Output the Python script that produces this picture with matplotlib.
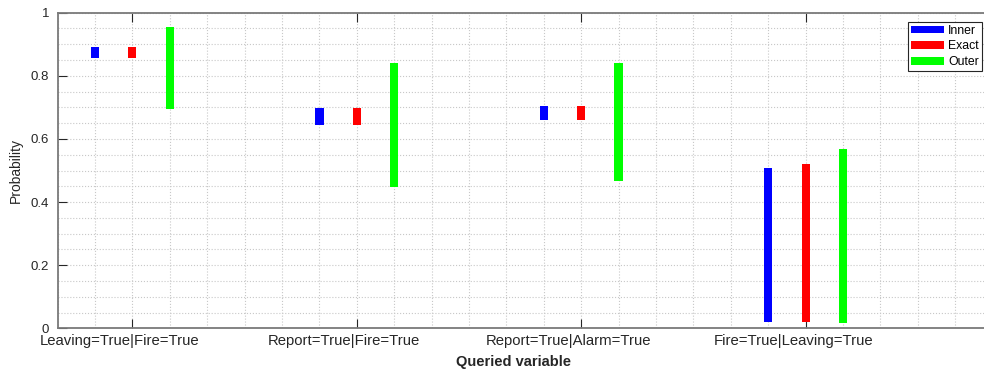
import matplotlib
matplotlib.use("Agg")
import matplotlib.pyplot as plt
import matplotlib.transforms as mtransforms
import numpy as np
from matplotlib.ticker import MultipleLocator

categories = ['Leaving=True|Fire=True', 'Report=True|Fire=True',
              'Report=True|Alarm=True', 'Fire=True|Leaving=True']
inner_lo = [0.857, 0.643, 0.661, 0.019]
inner_hi = [0.890, 0.699, 0.703, 0.507]
exact_lo = [0.857, 0.643, 0.661, 0.019]
exact_hi = [0.890, 0.699, 0.703, 0.521]
outer_lo = [0.695, 0.447, 0.467, 0.016]
outer_hi = [0.956, 0.840, 0.841, 0.569]
series = ['Inner', 'Exact', 'Outer']
yticks = [0, 0.2, 0.4, 0.6, 0.8, 1]
ytick_labels = ['0', '0.2', '0.4', '0.6', '0.8', '1']

plt.rcParams['font.family'] = ['Liberation Sans', 'DejaVu Sans']

W, H = 984, 373
fig = plt.figure(figsize=(W / 100, H / 100), dpi=100)
left_px, bottom_px, top_px = 57.5, 328.3, 12.7
unit_px = 224.45
xmin, xmax = 2 / 3, 5.0
width_px = (xmax - xmin) * unit_px
ax = fig.add_axes([left_px / W, (H - bottom_px) / H, width_px / W,
                   (bottom_px - top_px) / H])

x = np.arange(1, len(categories) + 1)
bw = 0.037
off = 1 / 6
colors = ['#0000ff', '#ff0000', '#00ff00']
los = [inner_lo, exact_lo, outer_lo]
his = [inner_hi, exact_hi, outer_hi]
for i, (lo, hi, c, name) in enumerate(zip(los, his, colors, series)):
    lo = np.array(lo)
    hi = np.array(hi)
    ax.bar(x + (i - 1) * off, hi - lo, bottom=lo, width=bw, color=c,
           label=name, zorder=3)

ax.set_xlim(xmin, xmax)
ax.set_ylim(0, 1)
ax.set_xticks(x)
ax.set_xticklabels(categories, fontsize=10.7, color='#262626')
ax.set_yticks(yticks)
ax.set_yticklabels(ytick_labels, fontsize=9.5, color='#262626')
ax.xaxis.set_minor_locator(MultipleLocator(1 / 6))
ax.yaxis.set_minor_locator(MultipleLocator(0.05))
ax.tick_params(which='major', direction='in', length=6.5, width=0.8,
               top=True, right=True, color='#262626')
ax.tick_params(axis='x', which='major', pad=4)
ax.tick_params(axis='y', which='major', pad=6)
ax.tick_params(which='minor', length=0, top=True, right=True)
ax.grid(which='both', linestyle=':', color='#c8c8c8', linewidth=0.8, zorder=0)
ax.set_axisbelow(True)
for s in ax.spines.values():
    s.set_color('#7a7a7a')
    s.set_linewidth(1.3)

shift = mtransforms.ScaledTranslation(-12.5 / 100, 0, fig.dpi_scale_trans)
for lab in ax.get_xticklabels():
    lab.set_transform(lab.get_transform() + shift)

ax.set_ylabel('Probability', fontsize=10, color='#262626')
ax.yaxis.set_label_coords((22.5 - left_px) / width_px, 0.5)
ax.set_xlabel('Queried variable', fontsize=10.5, fontweight='bold',
              color='#262626')
ax.xaxis.set_label_coords((514 - left_px) / width_px,
                          -(355 - bottom_px) / (bottom_px - top_px))

leg = ax.legend(loc='upper right', bbox_to_anchor=(981.7 / W, (H - 21.7) / H),
                bbox_transform=fig.transFigure, fontsize=8.8,
                fancybox=False, framealpha=1, edgecolor='#262626',
                borderaxespad=0, borderpad=0.25, labelspacing=0.3,
                handlelength=2.75, handleheight=0.6, handletextpad=0.3)
leg.get_frame().set_linewidth(0.8)

fig.savefig('out.png', dpi=100)
